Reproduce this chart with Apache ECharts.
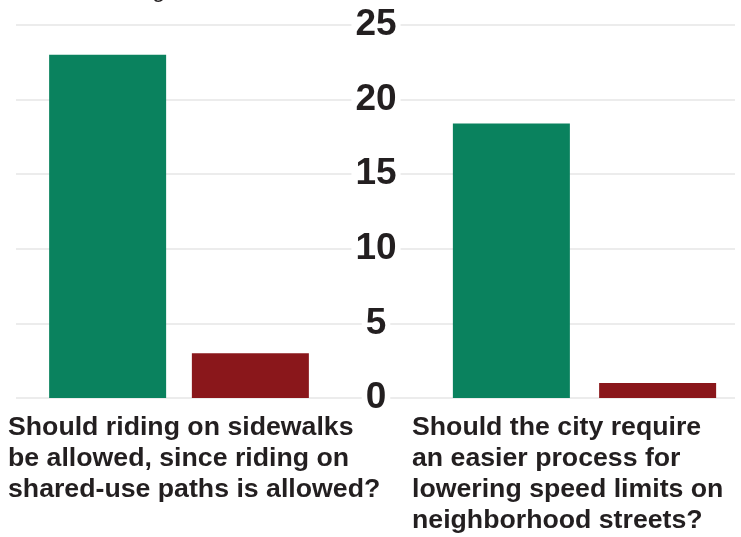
<!DOCTYPE html>
<html>
<head>
<meta charset="utf-8">
<script src="https://cdn.jsdelivr.net/npm/echarts@6/dist/echarts.min.js"></script>
<style>
  html, body { margin: 0; padding: 0; background: #fff; }
  #chart { width: 741px; height: 537px; }
</style>
</head>
<body>
<div id="chart"></div>
<script>
// data
var categories = [
  'Should riding on sidewalks\nbe allowed, since riding on\nshared-use paths is allowed?',
  'Should the city require\nan easier process for\nlowering speed limits on\nneighborhood streets?'
]
var yesValues = [23, 18.4]
var noValues = [3, 1]
var yTicks = [0, 5, 10, 15, 20, 25]

var green = '#0a825e'
var red = '#8a171b'
var fontColor = '#231f20'
var yMin = yTicks[0]
var yMax = yTicks[yTicks.length - 1]
var yStep = yTicks[1] - yTicks[0]

var myChart = echarts.init(document.getElementById('chart'))

var option = {
  backgroundColor: '#fff',
  animation: false,
  textStyle: { fontFamily: 'Liberation Sans, Arial, sans-serif' },
  grid: [
    // background grid only for the gridlines across the whole width
    { left: 16, right: 6, top: 25, bottom: 139 },
    // left panel
    { left: 16, width: 326, top: 25, bottom: 139 },
    // right panel
    { left: 434, right: 6, top: 25, bottom: 139 }
  ],
  xAxis: [
    { gridIndex: 0, type: 'category', data: [''], show: false },
    { gridIndex: 1, type: 'category', data: [categories[0]], show: false },
    { gridIndex: 2, type: 'category', data: [categories[1]], show: false }
  ],
  yAxis: [
    {
      gridIndex: 0, type: 'value', min: yMin, max: yMax, interval: yStep,
      axisLine: { show: false }, axisTick: { show: false }, axisLabel: { show: false },
      splitLine: { show: true, lineStyle: { color: '#ececec', width: 2 } }
    },
    {
      gridIndex: 1, type: 'value', min: yMin, max: yMax, interval: yStep,
      show: false, splitLine: { show: false }
    },
    {
      gridIndex: 2, type: 'value', min: yMin, max: yMax, interval: yStep,
      axisLine: { show: false }, axisTick: { show: false },
      splitLine: { show: false },
      axisLabel: {
        margin: 58,
        align: 'center',
        color: fontColor,
        fontSize: 37,
        fontWeight: 'bold',
        backgroundColor: '#fff',
        padding: [0, 4]
      }
    }
  ],
  series: [
    {
      name: 'Yes', type: 'bar', xAxisIndex: 1, yAxisIndex: 1,
      barWidth: 117, barGap: '22%',
      itemStyle: { color: green },
      data: [yesValues[0]]
    },
    {
      name: 'No', type: 'bar', xAxisIndex: 1, yAxisIndex: 1,
      barWidth: 117, barGap: '22%',
      itemStyle: { color: red },
      data: [noValues[0]]
    },
    {
      name: 'Yes', type: 'bar', xAxisIndex: 2, yAxisIndex: 2,
      barWidth: 117, barGap: '25%',
      itemStyle: { color: green },
      data: [yesValues[1]]
    },
    {
      name: 'No', type: 'bar', xAxisIndex: 2, yAxisIndex: 2,
      barWidth: 117, barGap: '25%',
      itemStyle: { color: red },
      data: [noValues[1]]
    }
  ],
  graphic: [
    // cut-off heading text at the very top
    {
      type: 'text', left: 152, top: -22,
      style: { text: 'g', fill: fontColor, font: '24px Liberation Sans' }
    },
    {
      type: 'text', left: 8, top: 412,
      style: {
        text: categories[0], fill: fontColor,
        font: 'bold 26.7px Liberation Sans', lineHeight: 31
      }
    },
    {
      type: 'text', left: 412, top: 412,
      style: {
        text: categories[1], fill: fontColor,
        font: 'bold 26.7px Liberation Sans', lineHeight: 31
      }
    }
  ]
}
myChart.setOption(option)
</script>
</body>
</html>
